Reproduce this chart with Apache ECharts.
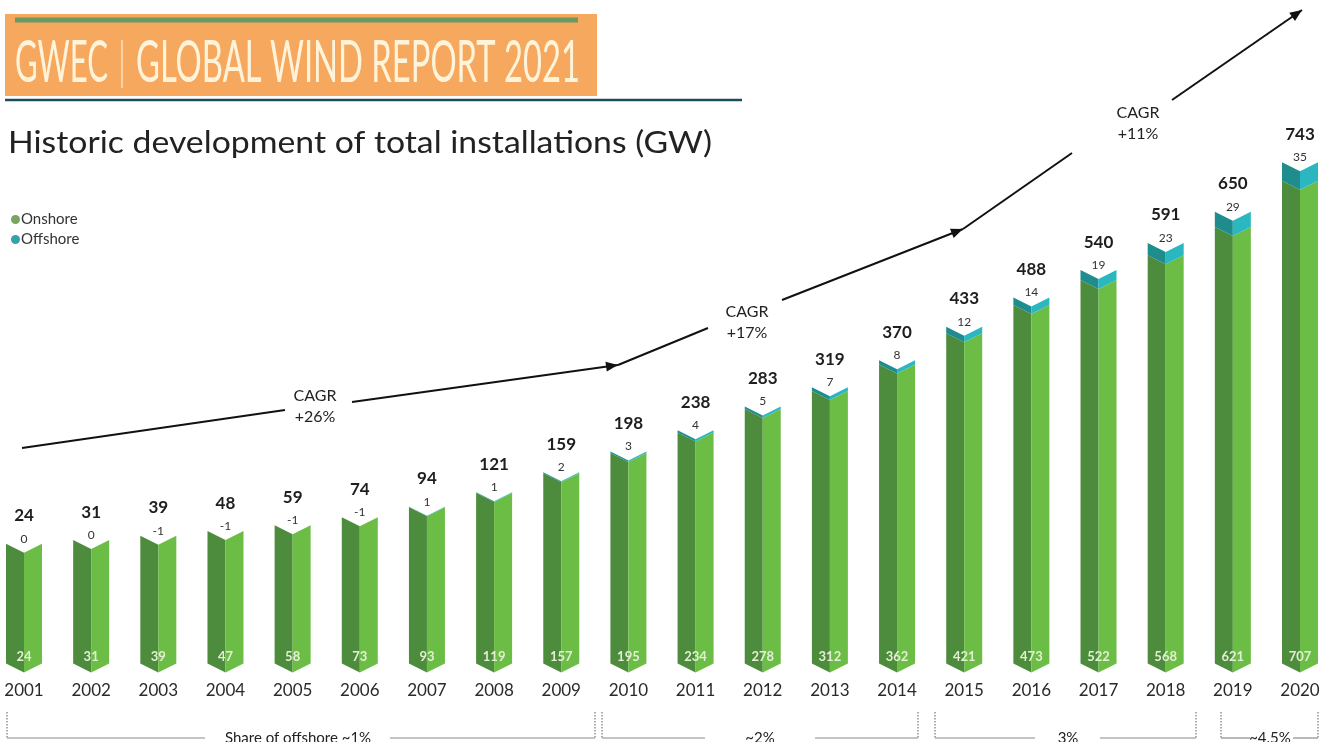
<!DOCTYPE html>
<html>
<head>
<meta charset="utf-8">
<script src="https://cdn.jsdelivr.net/npm/echarts@6/dist/echarts.min.js"></script>
<style>
  html, body { margin: 0; padding: 0; background: #fff; }
  #main { width: 1330px; height: 742px; }
</style>
</head>
<body>
<div id="main"></div>
<script>
 // data
 var years = ['2001', '2002', '2003', '2004', '2005', '2006', '2007', '2008', '2009', '2010',
     '2011', '2012', '2013', '2014', '2015', '2016', '2017', '2018', '2019', '2020'];
 var onshore = [24, 31, 39, 47, 58, 73, 93, 119, 157, 195, 234, 278, 312, 362, 421, 473, 522, 568, 621, 707];
 var offshore = [0, 0, -1, -1, -1, -1, 1, 1, 2, 3, 4, 5, 7, 8, 12, 14, 19, 23, 29, 35];
 var totals = [24, 31, 39, 48, 59, 74, 94, 121, 159, 198, 238, 283, 319, 370, 433, 488, 540, 591, 650, 743];

 var cagrLabels = ['CAGR\n+26%', 'CAGR\n+17%', 'CAGR\n+11%'];
 var shareLabels = ['Share of offshore ~1%', '~2%', '3%', '~4.5%'];

 var FONT = 'Lato, "Noto Sans", sans-serif';
 var Y_MIN = -210;
 var HW = 18;   // half bar width
 var D = 9;     // chevron depth

 var myChart = echarts.init(document.getElementById('main'));

 function split(i) {
     return totals[i] - Math.max(offshore[i], 0);
 }

 function renderOnshore(params, api) {
     var i = params.dataIndex;
     var top = api.coord([api.value(0), api.value(1)]);
     var base = api.coord([api.value(0), Y_MIN]);
     var x = top[0], yt = top[1], yb = base[1];
     return {
         type: 'group',
         children: [
             { type: 'polygon', shape: { points: [[x - HW, yt], [x, yt + D], [x, yb + D / 2], [x - HW, yb - D / 2]] }, style: { fill: '#4d8c3c' } },
             { type: 'polygon', shape: { points: [[x, yt + D], [x + HW, yt], [x + HW, yb - D / 2], [x, yb + D / 2]] }, style: { fill: '#6cbd45' } },
             { type: 'text', style: { x: x, y: yb - 11, text: String(onshore[i]), fill: '#e2efd3', font: 'bold 13px ' + FONT, align: 'center', verticalAlign: 'middle' } }
         ]
     };
 }

 function renderOffshore(params, api) {
     var i = params.dataIndex;
     var lo = api.coord([api.value(0), api.value(1)]);
     var hi = api.coord([api.value(0), api.value(2)]);
     var x = hi[0], yt = hi[1], ys = lo[1];
     return {
         type: 'group',
         children: [
             { type: 'polygon', shape: { points: [[x - HW, yt], [x, yt + D], [x, ys + D], [x - HW, ys]] }, style: { fill: '#1f8c8e' } },
             { type: 'polygon', shape: { points: [[x, yt + D], [x + HW, yt], [x + HW, ys], [x, ys + D]] }, style: { fill: '#2bb7c0' } },
             { type: 'text', style: { x: x, y: yt - 5, text: String(offshore[i]), fill: '#333', font: '12px ' + FONT, align: 'center', verticalAlign: 'middle' } },
             { type: 'text', style: { x: x, y: yt - 28, text: String(totals[i]), fill: '#1e1e1e', font: 'bold 17px ' + FONT, align: 'center', verticalAlign: 'middle' } }
         ]
     };
 }

 function measure(text, font) {
     var ctx = document.createElement('canvas').getContext('2d');
     ctx.font = font;
     return ctx.measureText(text).width;
 }

 function arrowHead(from, to) {
     var a = Math.atan2(to[1] - from[1], to[0] - from[0]);
     var L = 12, W = 5;
     var bx = to[0] - L * Math.cos(a), by = to[1] - L * Math.sin(a);
     return {
         type: 'polygon',
         shape: { points: [to, [bx + W * Math.sin(a), by - W * Math.cos(a)], [bx - W * Math.sin(a), by + W * Math.cos(a)]] },
         style: { fill: '#111' }
     };
 }

 function line(p1, p2, style) {
     return { type: 'line', shape: { x1: p1[0], y1: p1[1], x2: p2[0], y2: p2[1] }, style: style };
 }

 // header banner
 var bannerFont = '58px ' + FONT;
 var t1 = 'GWEC', t2 = 'GLOBAL WIND REPORT 2021';
 var s1 = 93 / measure(t1, bannerFont);
 var s2 = 444 / measure(t2, bannerFont);
 var titleFont = '31px ' + FONT;
 var titleText = 'Historic development of total installations (GW)';
 var sT = 704 / measure(titleText, titleFont);

 var graphics = [
     { type: 'rect', shape: { x: 5, y: 14, width: 592, height: 82 }, style: { fill: '#f5a85e' } },
     line([15, 20], [578, 20], { stroke: '#6a9a60', lineWidth: 5 }),
     { type: 'text', x: 15, y: 63, scaleX: s1, style: { text: t1, font: bannerFont, fill: '#fff3da', verticalAlign: 'middle' } },
     line([122, 40], [122, 88], { stroke: '#fbe3c2', lineWidth: 1.5 }),
     { type: 'text', x: 136, y: 63, scaleX: s2, style: { text: t2, font: bannerFont, fill: '#fff3da', verticalAlign: 'middle' } },
     line([5, 100], [742, 100], { stroke: '#1d4d5c', lineWidth: 2.5 }),
     { type: 'text', x: 8, y: 143, scaleX: sT, style: { text: titleText, font: titleFont, fill: '#222', verticalAlign: 'middle' } }
 ];

 // CAGR arrows
 var ln = { stroke: '#111', lineWidth: 2 };
 graphics.push(
     line([22, 448], [285, 410], ln),
     line([352, 402], [618, 365], ln), arrowHead([352, 402], [618, 365]),
     line([618, 365], [708, 328], ln),
     line([782, 300], [963, 229], ln), arrowHead([782, 300], [963, 229]),
     line([963, 229], [1072, 153], ln),
     line([1172, 100], [1302, 10], ln), arrowHead([1172, 100], [1302, 10])
 );
 var cagrPos = [[315, 406], [747, 322], [1138, 123]];
 cagrLabels.forEach(function (t, k) {
     graphics.push({ type: 'text', style: { x: cagrPos[k][0], y: cagrPos[k][1], text: t, font: '16px ' + FONT, fill: '#222', align: 'center', verticalAlign: 'middle', lineHeight: 21 } });
 });

 // share-of-offshore brackets
 var brackets = [[7, 595, 205, 390, 298], [602, 918, 705, 815, 760], [935, 1196, 1035, 1100, 1068], [1221, 1318, 1250, 1293, 1270]];
 var dot = { stroke: '#777', lineWidth: 1.2, lineDash: [1.5, 1.5] };
 var sol = { stroke: '#8a8a8a', lineWidth: 1.2 };
 brackets.forEach(function (b, k) {
     graphics.push(
         line([b[0], 712], [b[0], 738], dot),
         line([b[1], 712], [b[1], 738], dot),
         line([b[0], 738], [b[2], 738], sol),
         line([b[3], 738], [b[1], 738], sol),
         { type: 'text', style: { x: b[4], y: 738, text: shareLabels[k], font: '15px ' + FONT, fill: '#222', align: 'center', verticalAlign: 'middle' } }
     );
 });

 var option = {
     animation: false,
     backgroundColor: '#fff',
     legend: {
         orient: 'vertical',
         left: 6,
         top: 207,
         itemWidth: 9,
         itemHeight: 9,
         itemGap: 5,
         icon: 'circle',
         textStyle: { fontFamily: FONT, fontSize: 15, color: '#333', padding: [0, 0, 0, -4] },
         data: ['Onshore', 'Offshore']
     },
     grid: {
         left: 24,
         right: 30,
         top: 10,
         bottom: 74
     },
     xAxis: {
         type: 'category',
         boundaryGap: false,
         data: years,
         axisLine: { show: false },
         axisTick: { show: false },
         axisLabel: { fontFamily: FONT, fontSize: 17, color: '#2a2a2a', margin: 14 }
     },
     yAxis: {
         type: 'value',
         show: false,
         min: Y_MIN,
         max: 1030,
         splitLine: { show: false }
     },
     series: [
         {
             name: 'Onshore',
             type: 'custom',
             itemStyle: { color: '#79a65c' },
             renderItem: renderOnshore,
             data: years.map(function (y, i) { return [i, split(i)]; })
         },
         {
             name: 'Offshore',
             type: 'custom',
             itemStyle: { color: '#35a2a5' },
             renderItem: renderOffshore,
             data: years.map(function (y, i) { return [i, split(i), totals[i]]; })
         }
     ],
     graphic: graphics
 };
 myChart.setOption(option);
</script>
</body>
</html>
